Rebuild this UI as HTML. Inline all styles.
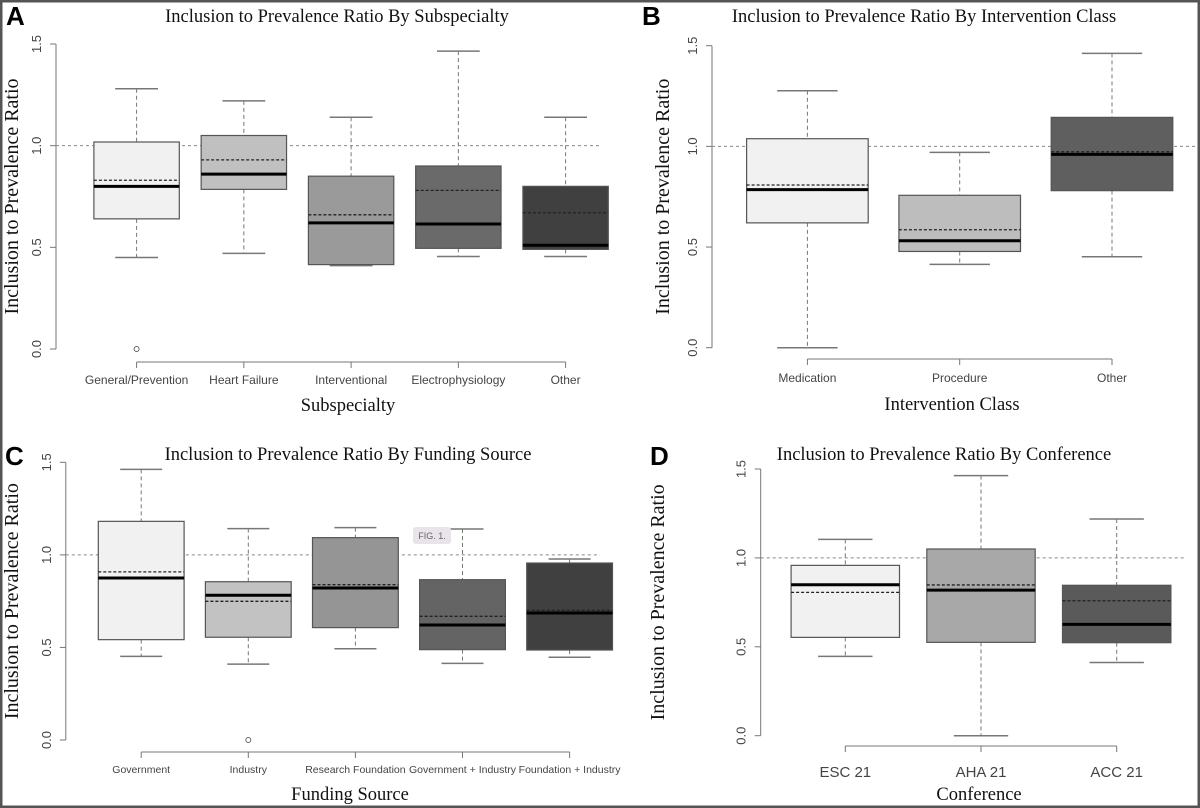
<!DOCTYPE html>
<html><head><meta charset="utf-8">
<style>
html,body{margin:0;padding:0;background:#fff;}
svg{display:block;}
.tick{font-family:"Liberation Sans",sans-serif;fill:#444;}
.ser{font-family:"Liberation Serif",serif;fill:#111;}
</style></head>
<body>
<svg id="fig" width="1200" height="808" viewBox="0 0 1200 808" xmlns="http://www.w3.org/2000/svg">
<rect x="0" y="0" width="1200" height="808" fill="#fff" stroke="#555" stroke-width="5"/>
</svg>
<script>
// Panel A
const aCats=["General/Prevention","Heart Failure","Interventional","Electrophysiology","Other"];
const aHi=[1.28,1.22,1.14,1.465,1.14];
const aQ3=[1.018,1.05,0.85,0.90,0.80];
const aMean=[0.83,0.93,0.66,0.78,0.67];
const aMed=[0.80,0.86,0.62,0.615,0.51];
const aQ1=[0.64,0.785,0.415,0.495,0.49];
const aLo=[0.45,0.47,0.41,0.455,0.455];
const aOut=[[0,0]];
// Panel B
const bCats=["Medication","Procedure","Other"];
const bHi=[1.276,0.97,1.462];
const bQ3=[1.038,0.757,1.144];
const bMean=[0.808,0.586,0.973];
const bMed=[0.785,0.531,0.96];
const bQ1=[0.62,0.478,0.78];
const bLo=[0,0.414,0.452];
const bOut=[];
// Panel C
const cCats=["Government","Industry","Research Foundation","Government + Industry","Foundation + Industry"];
const cHi=[1.462,1.142,1.147,1.14,0.978];
const cQ3=[1.181,0.855,1.093,0.866,0.956];
const cMean=[0.908,0.749,0.839,0.668,0.70];
const cMed=[0.875,0.782,0.821,0.621,0.686];
const cQ1=[0.542,0.555,0.607,0.488,0.486];
const cLo=[0.452,0.41,0.493,0.414,0.447];
const cOut=[[1,0]];
// Panel D
const dCats=["ESC 21","AHA 21","ACC 21"];
const dHi=[1.104,1.463,1.219];
const dQ3=[0.958,1.05,0.846];
const dMean=[0.806,0.848,0.759];
const dMed=[0.849,0.819,0.626];
const dQ1=[0.553,0.525,0.523];
const dLo=[0.446,0,0.412];
const dOut=[];
const yTicks=["0.0","0.5","1.0","1.5"];
const yTickVals=[0,0.5,1.0,1.5];

const NS="http://www.w3.org/2000/svg";
const svg=document.getElementById('fig');
function mk(tag,attrs,parent,text){const e=document.createElementNS(NS,tag);for(const k in attrs)e.setAttribute(k,attrs[k]);if(text!==undefined)e.textContent=text;(parent||svg).appendChild(e);return e;}

function panel(p){
  const g=mk('g',{});
  
  
  const y=v=>p.y0-(p.y0-p.y15)*v/1.5;
  const x=i=>p.xs+i*p.dx;
  const L=mk('text',{x:p.lx,y:p.ly,'font-family':'Liberation Sans, sans-serif','font-weight':'bold','font-size':'26',fill:'#000'},g,p.letter);
  
  
  const T=mk('text',{x:p.tx,y:p.ty,'text-anchor':'middle','class':'ser','font-size':'18.5'},g,p.title);
  
  
  const ax=mk('line',{x1:p.ax,x2:p.ax,y1:y(0),y2:y(1.5),stroke:'#777','stroke-width':1},g);
  
  
  yTickVals.forEach((v,i)=>{
    mk('line',{x1:p.ax-6,x2:p.ax,y1:y(v),y2:y(v),stroke:'#777'},g);
    const t=mk('text',{x:p.ax-15,y:y(v),'class':'tick','font-size':'13','text-anchor':'middle',transform:`rotate(-90 ${p.ax-15} ${y(v)})`},g,yTicks[i]);
    
    
  });
  const yt=mk('text',{x:p.ytx,y:(y(0)+y(1.5))/2,'class':'ser','font-size':'20','text-anchor':'middle',transform:`rotate(-90 ${p.ytx} ${(y(0)+y(1.5))/2})`},g,'Inclusion to Prevalence Ratio');
  
  
  const rl=mk('line',{x1:p.ax,x2:p.rx2,y1:y(1),y2:y(1),stroke:'#888','stroke-dasharray':'3,3'},g);
  
  
  const n=p.cats.length;
  const xa=mk('line',{x1:x(0),x2:x(n-1),y1:p.cy,y2:p.cy,stroke:'#777'},g);
  
  
  p.cats.forEach((c,i)=>{
    mk('line',{x1:x(i),x2:x(i),y1:p.cy,y2:p.cy+6,stroke:'#777'},g);
    const t=mk('text',{x:x(i),y:p.cly,'class':'tick','font-size':p.cfs,'text-anchor':'middle'},g,c);
    
    
    const bg=mk('g',{},g);
    
    
    const cx=x(i);
    mk('line',{x1:cx,x2:cx,y1:y(p.hi[i]),y2:y(p.q3[i]),stroke:'#777','stroke-dasharray':'4,3'},bg);
    mk('line',{x1:cx,x2:cx,y1:y(p.q1[i]),y2:y(p.lo[i]),stroke:'#777','stroke-dasharray':'4,3'},bg);
    mk('line',{x1:cx-p.cap,x2:cx+p.cap,y1:y(p.hi[i]),y2:y(p.hi[i]),stroke:'#777','stroke-width':1.5},bg);
    mk('line',{x1:cx-p.cap,x2:cx+p.cap,y1:y(p.lo[i]),y2:y(p.lo[i]),stroke:'#777','stroke-width':1.5},bg);
    mk('rect',{x:cx-p.bw,y:y(p.q3[i]),width:2*p.bw,height:y(p.q1[i])-y(p.q3[i]),fill:p.fill[i],stroke:'#555','stroke-width':1.2},bg);
    mk('line',{x1:cx-p.bw,x2:cx+p.bw,y1:y(p.mean[i]),y2:y(p.mean[i]),stroke:'#222','stroke-width':1.3,'stroke-dasharray':'3,2'},bg);
    mk('line',{x1:cx-p.bw,x2:cx+p.bw,y1:y(p.med[i]),y2:y(p.med[i]),stroke:'#000','stroke-width':3},bg);
  });
  p.out.forEach(o=>{
    const c=mk('circle',{cx:x(o[0]),cy:y(o[1]),r:2.5,fill:'none',stroke:'#666'},g);
    
    
  });
  const xt=mk('text',{x:p.xtx,y:p.xty,'class':'ser','font-size':'18.5','text-anchor':'middle'},g,p.xtitle);
  
  
}

panel({id:'a',letter:'A',lx:6,ly:25,title:'Inclusion to Prevalence Ratio By Subspecialty',tx:337,ty:22,ax:56,y0:349,y15:44,ytx:18,rx2:600,
  cats:aCats,hi:aHi,q3:aQ3,mean:aMean,med:aMed,q1:aQ1,lo:aLo,out:aOut,xs:136.6,dx:107.25,bw:42.7,cap:21.4,cy:362,cly:384,cfs:12,
  fill:['#f1f1f1','#c0c0c0','#9a9a9a','#6a6a6a','#404040'],xtitle:'Subspecialty',xtx:348,xty:411});
panel({id:'b',letter:'B',lx:642,ly:25,title:'Inclusion to Prevalence Ratio By Intervention Class',tx:924,ty:22,ax:712,y0:347.7,y15:45.7,ytx:669,rx2:1196,
  cats:bCats,hi:bHi,q3:bQ3,mean:bMean,med:bMed,q1:bQ1,lo:bLo,out:bOut,xs:807.4,dx:152.3,bw:60.8,cap:30.2,cy:359,cly:382,cfs:12,
  fill:['#f1f1f1','#bdbdbd','#5f5f5f'],xtitle:'Intervention Class',xtx:952,xty:410});
panel({id:'c',letter:'C',lx:5,ly:465,title:'Inclusion to Prevalence Ratio By Funding Source',tx:348,ty:460,ax:65.8,y0:740,y15:462.3,ytx:18,rx2:600,
  cats:cCats,hi:cHi,q3:cQ3,mean:cMean,med:cMed,q1:cQ1,lo:cLo,out:cOut,xs:141.2,dx:107.1,bw:42.9,cap:21,cy:752,cly:773,cfs:10.5,
  fill:['#f1f1f1','#c2c2c2','#959595','#646464','#404040'],xtitle:'Funding Source',xtx:350,xty:800});
panel({id:'d',letter:'D',lx:650,ly:465,title:'Inclusion to Prevalence Ratio By Conference',tx:944,ty:460,ax:760.7,y0:735.7,y15:469,ytx:664,rx2:1184,
  cats:dCats,hi:dHi,q3:dQ3,mean:dMean,med:dMed,q1:dQ1,lo:dLo,out:dOut,xs:845.3,dx:135.7,bw:54.2,cap:27.2,cy:746,cly:777,cfs:15,
  fill:['#f1f1f1','#a8a8a8','#5a5a5a'],xtitle:'Conference',xtx:979,xty:800});

const badge=mk('g',{});


mk('rect',{x:413,y:527,width:38,height:17,rx:3,fill:'#e8e4ea'},badge);
mk('text',{x:432,y:539,'text-anchor':'middle','font-family':'Liberation Sans, sans-serif','font-size':'9',fill:'#666'},badge,'FIG. 1.');
</script>
</body></html>
